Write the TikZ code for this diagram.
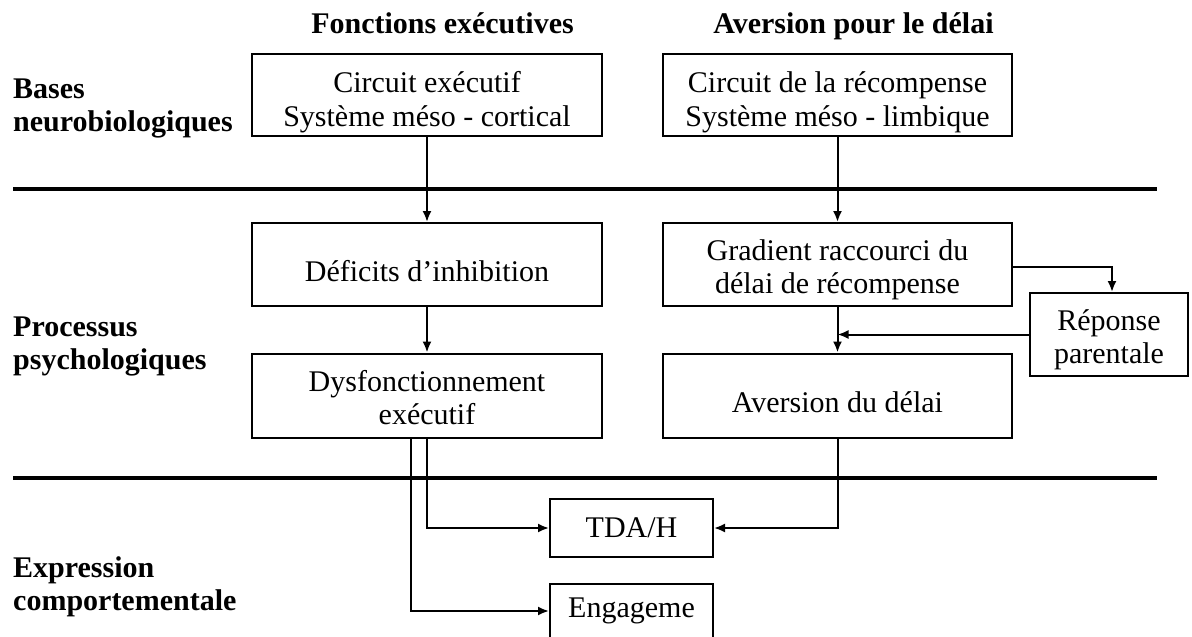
\documentclass[tikz,border=0pt]{standalone}
\usepackage{fontspec}
\setmainfont{Liberation Serif}
\usetikzlibrary{arrows.meta,calc}
\begin{document}
\begin{tikzpicture}[x=1pt,y=-1pt,
  box/.style={draw, line width=2pt, rectangle, align=center, inner sep=4pt,
              font=\fontsize{30}{33}\selectfont},
  oneline/.style={text height=40pt, text depth=6pt},
  twoline/.style={text height=63pt, text depth=5pt},
  toprow/.style={text height=68pt, text depth=5pt, font=\fontsize{30}{34}\selectfont},
  rowlabel/.style={anchor=west, align=left, inner sep=0pt,
                   font=\fontsize{30}{33}\selectfont\bfseries},
  header/.style={inner sep=0pt, anchor=base, font=\fontsize{30}{33}\selectfont\bfseries},
  rule/.style={line width=4.5pt},
  link/.style={line width=2pt, -{Latex[length=11pt,width=9pt]}}]
\useasboundingbox (0,0) rectangle (1192,637);
\clip (0,0) rectangle (1192,637);

% column headers
\node[header] (hexec) at (442.5,33) {Fonctions exécutives};
\node[header] (hdelay) at (853.5,33) {Aversion pour le délai};

% row labels
\node[rowlabel] (lbio) at (13,108) {Bases\\neurobiologiques};
\node[rowlabel] (lpsy) at (13,346) {Processus\\psychologiques};
\node[rowlabel] (lexp) at (13,587) {Expression\\comportementale};

% separating rules
\draw[rule] (13,189) -- (1157,189);
\draw[rule] (13,478) -- (1157,478);

% boxes
\node[box, toprow, minimum width=350pt, minimum height=82pt] (ce) at (427,95)
  {Circuit exécutif\\Système méso - cortical};
\node[box, toprow, minimum width=349pt, minimum height=82pt] (cr) at (837.5,95)
  {Circuit de la récompense\\Système méso - limbique};
\node[box, oneline, minimum width=350pt, minimum height=83pt] (di) at (427,264.5)
  {Déficits d’inhibition};
\node[box, twoline, minimum width=349pt, minimum height=83pt] (gr) at (837.5,264.5)
  {Gradient raccourci du\\délai de récompense};
\node[box, twoline, minimum width=158pt, minimum height=83pt] (rp) at (1109,334.5)
  {Réponse\\parentale};
\node[box, twoline, minimum width=350pt, minimum height=84pt] (dy) at (427,395.5)
  {Dysfonctionnement\\exécutif};
\node[box, oneline, minimum width=349pt, minimum height=84pt] (av) at (837.5,395.5)
  {Aversion du délai};
\node[box, minimum width=163pt, minimum height=58pt] (tda) at (631.5,528)
  {TDA/H};
\node[box, minimum width=163pt, anchor=north, text height=29pt, text depth=40pt]
  (eng) at (631.5,583) {Engageme};

% connectors
\coordinate (mj) at (gr.south |- rp.west);
\coordinate (engin) at ($(eng.north west)+(0,28)$);
\draw[link] (ce.south) -- (di.north);
\draw[link] (cr.south) -- (gr.north);
\draw[link] (di.south) -- (dy.north);
\draw[link] (gr.south) -- (av.north);
\draw[link] ($(gr.east)+(0,2)$) -| ($(rp.north)+(3,0)$);
\draw[link] (rp.west) -- (mj);
\draw[link] (dy.south) |- (tda.west);
\draw[link] ($(dy.south)+(-16,0)$) |- (engin);
\draw[link] (av.south) |- (tda.east);
\end{tikzpicture}
\end{document}
